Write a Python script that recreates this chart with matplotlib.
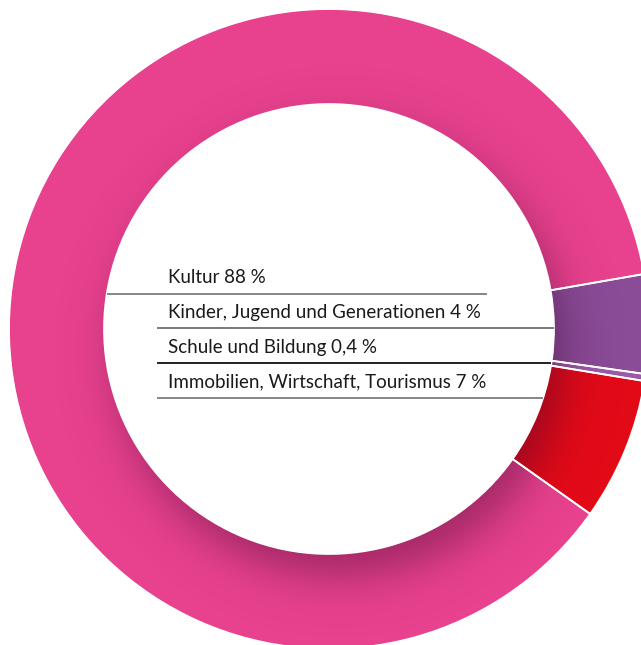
import numpy as np
import matplotlib.pyplot as plt
from matplotlib.patches import Wedge

# slice shares as measured from the ring (degrees / 3.6)
categories = ["Kultur", "Kinder, Jugend und Generationen", "Schule und Bildung",
              "Immobilien, Wirtschaft, Tourismus"]
shares = [87.4, 5.0, 0.35, 7.2]
pct_text = ["88 %", "4 %", "0,4 %", "7 %"]
colors = ["#e8418e", "#8a4b97", "#9a5aa6", "#e30a17"]

W, H = 641, 645
CX, CY, R = 329, 329, 320     # centre and outer radius in pixels
R_IN = 0.703                 # inner radius relative to outer


def px(x, y):
    return (x - CX) / R, (CY - y) / R


fig = plt.figure(figsize=(W / 100, H / 100), dpi=100)
ax = fig.add_axes([0, 0, 1, 1])
x0, y1 = px(0, 0)
x1, y0 = px(W, H)

start = -35.3
wp = dict(width=1 - R_IN, edgecolor="none")
ax.pie(shares, colors=colors, startangle=start, counterclock=False,
       radius=1, wedgeprops=wp)

# soft shadow cast by the inner disc onto the ring
gx = np.linspace(x0, x1, 700)
gy = np.linspace(y0, y1, 700)
XX, YY = np.meshgrid(gx, gy)
d = np.hypot(XX - 0.035, YY + 0.07)
z = (R_IN - d) / 0.07
alpha = 0.42 * 0.5 * (1 + np.tanh(0.85 * z))
rgba = np.zeros(XX.shape + (4,))
rgba[..., 0] = 0.25
rgba[..., 1] = 0.02
rgba[..., 2] = 0.18
rgba[..., 3] = alpha
ring = Wedge((0, 0), 1, 0, 360, width=1 - R_IN, facecolor="none", edgecolor="none")
ax.add_patch(ring)
im = ax.imshow(rgba, extent=(x0, x1, y0, y1), origin="lower", zorder=3,
               interpolation="bilinear")
im.set_clip_path(ring)

# white separators
ax.pie(shares, colors=["none"] * 4, startangle=start, counterclock=False,
       radius=1, wedgeprops=dict(width=1 - R_IN, edgecolor="white", linewidth=1.3,
                                 facecolor="none", zorder=4))
ax.add_patch(Wedge((0, 0), 1.01, 0, 360, width=0.011, facecolor="white",
                   edgecolor="none", zorder=5))
ax.add_patch(plt.Circle((0, 0), R_IN, facecolor="white", edgecolor="none", zorder=5))

# labels with rules
text_x = 168
baselines = [283, 318, 353, 387]
rule_y = [294, 328, 363, 398]
rule_start = [None, 157, 157, 157]
rule_end = [487, None, None, None]
rule_col = ["#666666", "#555555", "#111111", "#666666"]
rule_lw = [1.1, 1.1, 1.3, 1.1]
for i, cat in enumerate(categories):
    tx, ty = px(text_x, baselines[i])
    ax.text(tx, ty, f"{cat} {pct_text[i]}", fontsize=13.5, family="Lato",
            color="#1a1a1a", va="baseline", ha="left", zorder=6)
    yy = (CY - rule_y[i]) / R
    half = np.sqrt(R_IN ** 2 - yy ** 2)
    xa = -half if rule_start[i] is None else px(rule_start[i], 0)[0]
    xb = half if rule_end[i] is None else px(rule_end[i], 0)[0]
    ax.plot([xa, xb], [yy, yy], color=rule_col[i], lw=rule_lw[i], zorder=6,
            solid_capstyle="butt")

ax.set_xlim(x0, x1)
ax.set_ylim(y0, y1)
ax.set_aspect("equal")
ax.axis("off")

fig.savefig("out.png", dpi=100)
